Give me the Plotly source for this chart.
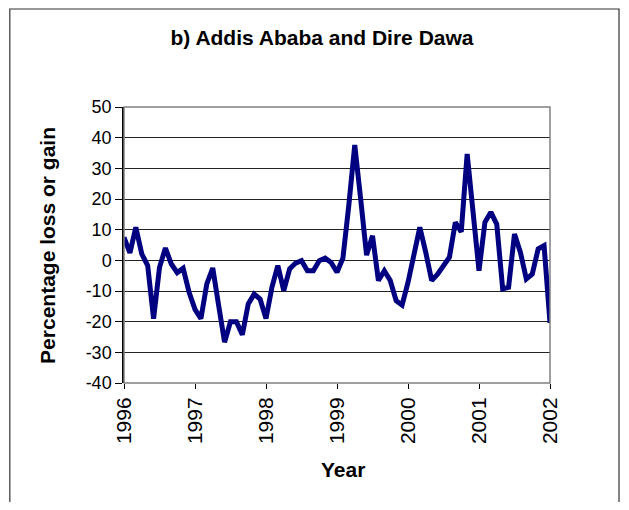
import plotly.graph_objects as go

NAVY = "#000080"
FONT = "Liberation Sans, Arial, sans-serif"

# monthly percentage loss / gain, Jan 1996 .. Jan 2002
pct_change = [
    7.5, 2.4, 10.8, 2.1, -1.7, -19.0, -2.3, 4.0, -1.2, -4.0, -2.6, -10.4,
    -16.0, -19.0, -7.7, -2.5, -14.8, -26.7, -20.0, -20.0, -24.3, -14.2, -11.0, -12.6,
    -19.0, -8.8, -1.7, -9.9, -2.8, -0.9, -0.1, -3.4, -3.4, -0.1, 0.7, -0.7,
    -3.9, 0.7, 18.0, 37.6, 20.0, 1.7, 8.0, -6.6, -3.4, -6.6, -13.2, -14.6,
    -7.2, 2.0, 10.8, 2.6, -6.6, -4.5, -1.7, 1.0, 12.4, 9.3, 34.7, 15.0,
    -3.4, 12.4, 15.7, 11.8, -9.3, -8.8, 8.6, 2.6, -6.1, -4.5, 3.7, 4.8,
    -20.4,
]
months = [1996 + i / 12 for i in range(len(pct_change))]
year_ticks = [1996, 1997, 1998, 1999, 2000, 2001, 2002]
pct_ticks = [50, 40, 30, 20, 10, 0, -10, -20, -30, -40]

fig = go.Figure(go.Scatter(
    x=months, y=pct_change, mode="lines",
    line=dict(color=NAVY, width=5),
    showlegend=False, hoverinfo="skip",
))

# plot-area border (grey) and outer chart frame
fig.add_shape(type="rect", xref="paper", yref="paper", x0=0, x1=1, y0=0, y1=1,
              line=dict(color="#808080", width=1.5), layer="above")
fig.add_shape(type="rect", xref="paper", yref="paper",
              x0=-0.268, x1=1.162, y0=-0.5, y1=1.355,
              line=dict(color="#333333", width=1.2))

# axis titles
fig.add_annotation(text="<b>Percentage loss or gain</b>", xref="paper", yref="paper",
                   x=-0.181, y=0.5, xanchor="center", yanchor="middle",
                   textangle=-90, showarrow=False,
                   font=dict(family=FONT, size=21, color="black"))
fig.add_annotation(text="<b>Year</b>", xref="paper", yref="paper",
                   x=0.515, y=-0.315, xanchor="center", yanchor="middle",
                   showarrow=False,
                   font=dict(family=FONT, size=21, color="black"))

# page body adds 8px margin, so figure is sized to fit the window without scrolling
fig.update_layout(
    width=613, height=494,
    margin=dict(l=116, r=71, t=99, b=119),
    paper_bgcolor="white", plot_bgcolor="white",
    font=dict(family=FONT, color="black", size=18),
    title=dict(text="<b>b) Addis Ababa and Dire Dawa</b>",
               x=314 / 613, xref="container", xanchor="center",
               y=1 - 30 / 494, yref="container", yanchor="middle",
               font=dict(family=FONT, size=21)),
)
fig.update_xaxes(
    range=[1996, 2002], tickvals=year_ticks, ticktext=[str(y) for y in year_ticks],
    tickangle=-90, ticks="outside", ticklen=5, tickcolor="black",
    tickfont=dict(size=21),
    showgrid=False, zeroline=False, showline=False,
)
fig.update_yaxes(
    range=[-40, 50], tickvals=pct_ticks, ticktext=[str(v) for v in pct_ticks],
    ticks="outside", ticklen=7, tickcolor="black",
    tickfont=dict(size=18),
    showgrid=True, gridcolor="#222222", gridwidth=1,
    zeroline=False, showline=True, linecolor="black", linewidth=1.5,
)

fig.write_html("out.html")
